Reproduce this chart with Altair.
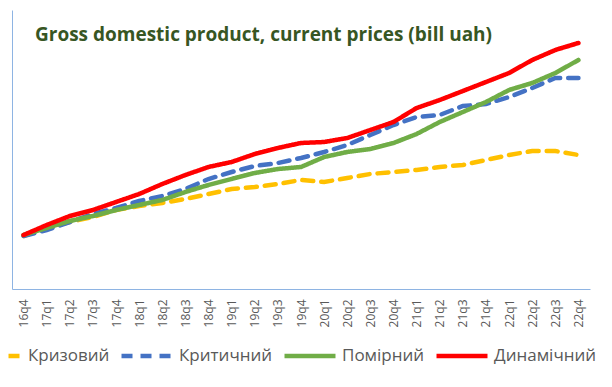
import altair as alt
import pandas as pd

quarters = ["16q4", "17q1", "17q2", "17q3", "17q4", "18q1", "18q2", "18q3", "18q4",
            "19q1", "19q2", "19q3", "19q4", "20q1", "20q2", "20q3", "20q4",
            "21q1", "21q2", "21q3", "21q4", "22q1", "22q2", "22q3", "22q4"]

series_names = ["Кризовий", "Критичний", "Помірний", "Динамічний"]

kryzovyi = [530, 610, 670, 720, 790, 830, 860, 900, 950, 1000, 1020, 1050, 1090,
            1070, 1110, 1150, 1170, 1190, 1220, 1240, 1290, 1340, 1380, 1380, 1340]
krytychnyi = [530, 590, 670, 750, 810, 880, 930, 1000, 1100, 1170, 1230, 1260, 1310,
              1370, 1440, 1540, 1640, 1720, 1740, 1830, 1850, 1920, 2010, 2110, 2110]
pomirnyi = [540, 610, 680, 730, 790, 840, 890, 970, 1040, 1100, 1160, 1200, 1220,
            1320, 1370, 1400, 1460, 1550, 1670, 1770, 1870, 1990, 2060, 2160, 2290]
dynamichnyi = [540, 640, 730, 790, 870, 950, 1050, 1140, 1220, 1270, 1350, 1410, 1460,
               1470, 1510, 1590, 1670, 1810, 1890, 1980, 2070, 2160, 2290, 2390, 2460]

colors = ["#FFC000", "#4472C4", "#70AD47", "#FF0000"]
dashes = [[11, 8], [11, 8], [1, 0], [1, 0]]
widths = [4.5, 4.5, 3.5, 3.5]

title_text = "Gross domestic product, current prices (bill uah)"

rows = []
for name, vals in zip(series_names, [kryzovyi, krytychnyi, pomirnyi, dynamichnyi]):
    for q, v in zip(quarters, vals):
        rows.append({"quarter": q, "value": v, "series": name})
df = pd.DataFrame(rows)

axis_color = "#8EB4E3"
font = "Open Sans"

chart = alt.Chart(df).mark_line(strokeCap="round").encode(
    x=alt.X("quarter:N", sort=quarters,
            scale=alt.Scale(type="point", padding=0.5),
            axis=alt.Axis(title=None, labelAngle=270, ticks=False, labelPadding=10,
                          labelFont=font, labelFontSize=12, labelColor="#595959",
                          domainColor=axis_color, domainWidth=1, grid=False)),
    y=alt.Y("value:Q", scale=alt.Scale(domain=[0, 2790], nice=False, zero=False),
            axis=alt.Axis(title=None, labels=False, ticks=False, grid=False,
                          domainColor=axis_color, domainWidth=1)),
    color=alt.Color("series:N", sort=series_names,
                    scale=alt.Scale(domain=series_names, range=colors),
                    legend=alt.Legend(title=None, orient="none", direction="horizontal",
                                      legendX=-44, legendY=318, columns=4,
                                      symbolType="stroke", symbolSize=2600,
                                      symbolStrokeWidth=4, labelFont=font,
                                      labelFontSize=17, labelColor="#595959",
                                      labelOffset=4, columnPadding=2, padding=0)),
    strokeDash=alt.StrokeDash("series:N", sort=series_names,
                              scale=alt.Scale(domain=series_names, range=dashes),
                              legend=alt.Legend(title=None, orient="none",
                                                legendX=-44, legendY=318)),
    strokeWidth=alt.StrokeWidth("series:N",
                                scale=alt.Scale(domain=series_names, range=widths),
                                legend=None),
    order=alt.Order("quarter:N"),
).properties(
    width=578,
    height=279,
    autosize=alt.AutoSizeParams(type="none"),
    padding={"left": 4, "top": 2, "right": 14, "bottom": 90},
    title=alt.TitleParams(title_text, anchor="start", frame="group", orient="top",
                          dx=23, offset=-50, baseline="alphabetic",
                          font=font, fontSize=19, fontWeight="bold", color="#375623"),
).configure_view(stroke=None).configure_legend(symbolStrokeWidth=4)

chart.save("out.html", embed_options={"renderer": "svg", "actions": False})
